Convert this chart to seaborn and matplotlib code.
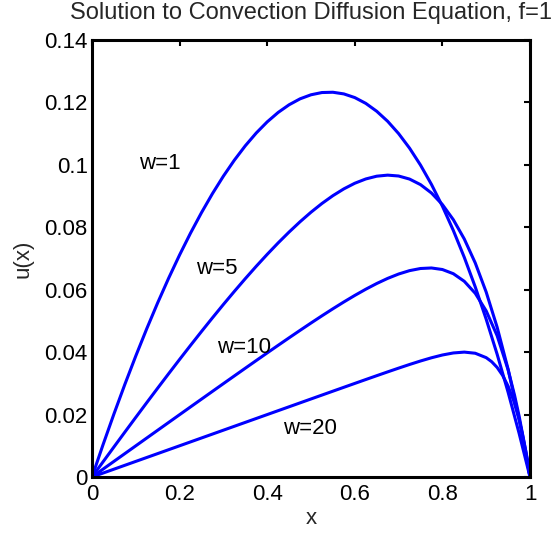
import numpy as np
import pandas as pd
import matplotlib
matplotlib.use("Agg")
import matplotlib.pyplot as plt
import seaborn as sns

sns.set_style("white")
plt.rcParams['font.family'] = ['Liberation Sans', 'DejaVu Sans']

x_grid = [0.0, 0.025, 0.05, 0.075, 0.1, 0.125, 0.15, 0.175, 0.2, 0.225, 0.25, 0.275,
          0.3, 0.325, 0.35, 0.375, 0.4, 0.425, 0.45, 0.475, 0.5, 0.525, 0.55, 0.575,
          0.6, 0.625, 0.65, 0.675, 0.7, 0.725, 0.75, 0.775, 0.8, 0.825, 0.85, 0.875,
          0.9, 0.925, 0.95, 0.975, 1.0]

x_w1 = x_grid
u_w1 = [0.0, 0.010267, 0.02016, 0.029673, 0.03879, 0.047511, 0.05582, 0.063699,
        0.07115, 0.078154, 0.08470, 0.090787, 0.09639, 0.101503, 0.10611, 0.110206,
        0.11377, 0.116791, 0.11925, 0.121151, 0.12245, 0.12317, 0.12326, 0.122729,
        0.12155, 0.119702, 0.11717, 0.113956, 0.11002, 0.105351, 0.09993, 0.093741,
        0.08676, 0.07897, 0.07036, 0.06089, 0.05054, 0.03931, 0.02715, 0.01406, 0.0]

x_w5 = x_grid[:-1] + [0.99, 1.0]
u_w5 = [0.0, 0.004819, 0.009615, 0.014383, 0.01912, 0.023822, 0.02848, 0.033102,
        0.03767, 0.042178, 0.04662, 0.050991, 0.05528, 0.059467, 0.06355, 0.06751,
        0.07133, 0.074997, 0.07848, 0.081771, 0.08483, 0.087628, 0.09013, 0.092308,
        0.09411, 0.095478, 0.09637, 0.096707, 0.09643, 0.095446, 0.09367, 0.090986,
        0.08728, 0.082419, 0.07624, 0.068578, 0.05923, 0.047966, 0.03454, 0.01866,
        0.00782, 0.0]

x_w10 = x_grid[:-2] + [0.965, 0.975, 0.99, 1.0]
u_w10 = [0.0, 0.002499, 0.004997, 0.007495, 0.009992, 0.012489, 0.014984, 0.017478,
         0.019971, 0.022462, 0.024949, 0.027434, 0.029913, 0.032387, 0.034854, 0.037312,
         0.039757, 0.042186, 0.044596, 0.04698, 0.049331, 0.051639, 0.053894, 0.056078,
         0.058173, 0.060153, 0.061985, 0.063627, 0.065026, 0.066112, 0.066796, 0.066963,
         0.06647, 0.065126, 0.062691, 0.058853, 0.053215, 0.045266, 0.034349, 0.026035,
         0.01962, 0.008516, 0.0]

x_w20 = [0.0, 0.1, 0.2, 0.3, 0.4, 0.5, 0.55, 0.6, 0.625, 0.65, 0.675, 0.7, 0.725, 0.75,
         0.775, 0.8, 0.825, 0.85, 0.875, 0.9, 0.9125, 0.925, 0.9375, 0.95, 0.9625,
         0.975, 0.9825, 0.99, 0.995, 1.0]
u_w20 = [0.0, 0.005, 0.01, 0.015, 0.02, 0.024998, 0.027494, 0.029983, 0.031222,
         0.032454, 0.033675, 0.034876, 0.036046, 0.037163, 0.038195, 0.039084, 0.03974,
         0.040011, 0.039646, 0.038233, 0.036938, 0.035094, 0.03255, 0.029106, 0.024507,
         0.018423, 0.013891, 0.008563, 0.004958, 0.0]

labels = ["w=1", "w=5", "w=10", "w=20"]
label_x = [0.107, 0.237, 0.285, 0.436]
label_y = [0.1005, 0.0668, 0.0414, 0.0155]

xticks = [0, 0.2, 0.4, 0.6, 0.8, 1]
xtick_labels = ["0", "0.2", "0.4", "0.6", "0.8", "1"]
yticks = [0, 0.02, 0.04, 0.06, 0.08, 0.1, 0.12, 0.14]
ytick_labels = ["0", "0.02", "0.04", "0.06", "0.08", "0.1", "0.12", "0.14"]

df = pd.concat([
    pd.DataFrame({"x": xs, "u": us, "w": lab})
    for xs, us, lab in zip([x_w1, x_w5, x_w10, x_w20],
                           [u_w1, u_w5, u_w10, u_w20], labels)
])

fig = plt.figure(figsize=(5.54, 5.35), dpi=100)
ax = fig.add_axes([92/554, 1 - 477/535, 438/554, 437/535])

sns.lineplot(data=df, x="x", y="u", units="w", estimator=None, sort=False,
             color="#0000ff", linewidth=2.2, ax=ax, legend=False)

for lab, lx, ly in zip(labels, label_x, label_y):
    ax.text(lx, ly, lab, fontsize=16, ha="left", va="center", color="black")

ax.set_xlim(0, 1)
ax.set_ylim(0, 0.14)
ax.set_xticks(xticks)
ax.set_xticklabels(xtick_labels)
ax.set_yticks(yticks)
ax.set_yticklabels(ytick_labels)
ax.tick_params(direction="in", length=4.5, width=1.5, top=True, right=True,
               labelsize=16, colors="black")
ax.tick_params(axis="x", pad=5)
ax.tick_params(axis="y", pad=3)
for s in ax.spines.values():
    s.set_linewidth(2.2)
    s.set_color("black")
ax.set_xlabel("x", fontsize=16, labelpad=2)
ax.set_ylabel("u(x)", fontsize=16, labelpad=8)
ax.set_title("Solution to Convection Diffusion Equation, f=1", fontsize=17, pad=15)

fig.savefig("out.png", dpi=100)
